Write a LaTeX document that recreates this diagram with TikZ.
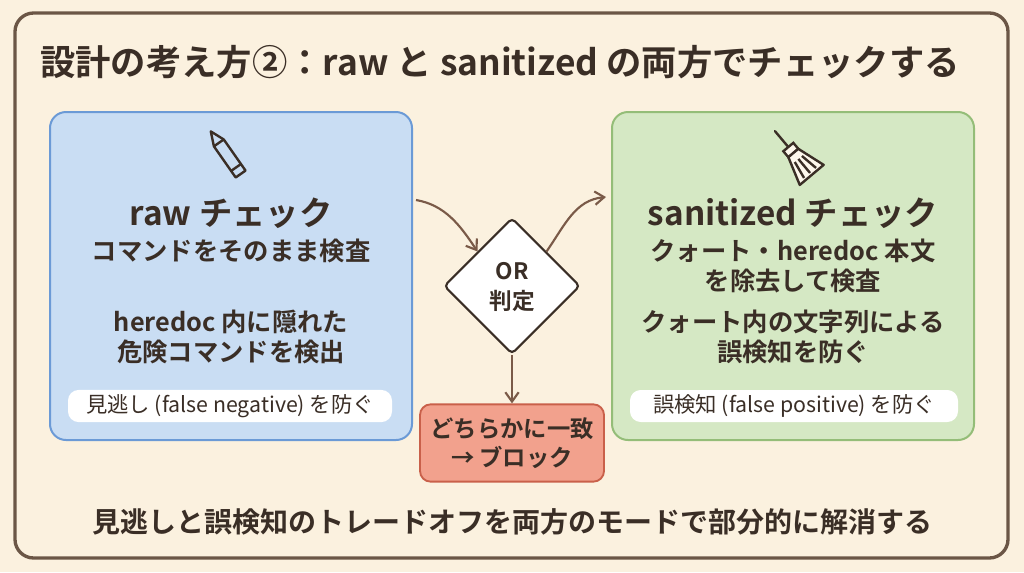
\documentclass[tikz,border=0pt]{standalone}
\usepackage{fontspec}
\setmainfont{Noto Sans CJK JP}[BoldFont={Noto Sans CJK JP Bold}]
\usetikzlibrary{shapes.geometric,arrows.meta}
\definecolor{bg}{HTML}{FBF1DF}
\definecolor{frame}{HTML}{6B5646}
\definecolor{ink}{HTML}{3A2E26}
\definecolor{bluef}{HTML}{C9DDF3}
\definecolor{blued}{HTML}{6B9AD6}
\definecolor{greenf}{HTML}{D5E8C4}
\definecolor{greend}{HTML}{94BD78}
\definecolor{redf}{HTML}{F2A18D}
\definecolor{redd}{HTML}{C9604A}
\definecolor{arr}{HTML}{7A5A48}
\tikzset{
 px/.style={x=0.75pt,y=-0.75pt},
 txt/.style={text=ink,font=\bfseries\fontsize{19}{23}\selectfont,align=center,inner sep=0pt},
 big/.style={text=ink,font=\bfseries\fontsize{25}{29}\selectfont,inner sep=0pt},
 pill/.style={fill=white,rounded corners=8pt,draw=none,minimum height=24pt,text=ink,font=\fontsize{16}{18}\selectfont},
 conn/.style={draw=arr,line width=1.6pt,-{Straight Barb[length=7pt,width=10pt]}},
}
\begin{document}
\begin{tikzpicture}[px]
\useasboundingbox (0,0) rectangle (1024,572);
\fill[bg] (0,0) rectangle (1024,572);
\draw[frame,line width=2.5pt,rounded corners=14pt] (15,13) rectangle (1008,558);
\node[big,font=\bfseries\fontsize{26.5}{30}\selectfont] (title) at (500,62) {設計の考え方②：raw と sanitized の両方でチェックする};
% left
\draw[fill=bluef,draw=blued,line width=1.5pt,rounded corners=12pt] (50,112) rectangle (412,440);
\node[big] (l1) at (231,213) {raw チェック};
\node[txt] (l2) at (231,251) {コマンドをそのまま検査};
\node[txt] (l3) at (231,337) {heredoc 内に隠れた\\危険コマンドを検出};
\node[pill,minimum width=243pt] (lp) at (230,406) {見逃し (false negative) を防ぐ};
% pencil
\begin{scope}[shift={(228,156)},rotate=-55,line width=1.8pt]
\draw[ink,line join=round] (-16,-6) rectangle (22,6);
\draw[ink,line join=round] (-16,-6) -- (-30,0) -- (-16,6);
\draw[ink] (14,-6) -- (14,6);
\end{scope}
% right
\draw[fill=greenf,draw=greend,line width=1.5pt,rounded corners=12pt] (612,112) rectangle (974,440);
\node[big] (r1) at (793,213) {sanitized チェック};
\node[txt] (r2) at (793,266) {クォート・heredoc 本文\\を除去して検査};
\node[txt] (r3) at (793,337) {クォート内の文字列による\\誤検知を防ぐ};
\node[pill,minimum width=246pt] (rp) at (794,406) {誤検知 (false positive) を防ぐ};
% broom
\begin{scope}[shift={(795,155)},rotate=40,line width=1.8pt,scale=1.3]
\draw[ink,line cap=round] (0,-24) -- (0,-6);
\draw[ink,fill=bg!60!white] (-5,-8) rectangle (5,-2);
\draw[ink,fill=bg!60!white,line join=round] (-5,-2) -- (-12,20) -- (12,20) -- (5,-2) -- cycle;
\foreach \x in {-6,0,6} \draw[ink] (\x*0.6,4) -- (\x,18);
\end{scope}
% diamond
\node[diamond,draw=ink,fill=white,line width=1.6pt,minimum width=102pt,minimum height=102pt,aspect=1,inner sep=0pt,rounded corners=3pt] (D) at (512,286) {};
\node[txt,font=\bfseries\fontsize{17}{22}\selectfont] (dt) at (512,287) {OR\\判定};
% red box
\node[draw=redd,fill=redf,line width=1.4pt,rounded corners=8pt,minimum width=138pt,minimum height=58pt,txt,font=\bfseries\fontsize{17.5}{22}\selectfont] (R) at (512,443) {どちらかに一致\\→ ブロック};
\coordinate (a1) at (416,200);
\coordinate (a2) at (606,197);
\draw[conn] (a1) .. controls (445,205) and (460,225) .. (D.north west);
\draw[conn] (D.north east) .. controls (565,225) and (575,200) .. (a2);
\draw[conn] (D.south) -- (R.north);
\node[big,font=\bfseries\fontsize{21}{25}\selectfont] (bot) at (512,522) {見逃しと誤検知のトレードオフを両方のモードで部分的に解消する};
\end{tikzpicture}
\end{document}
